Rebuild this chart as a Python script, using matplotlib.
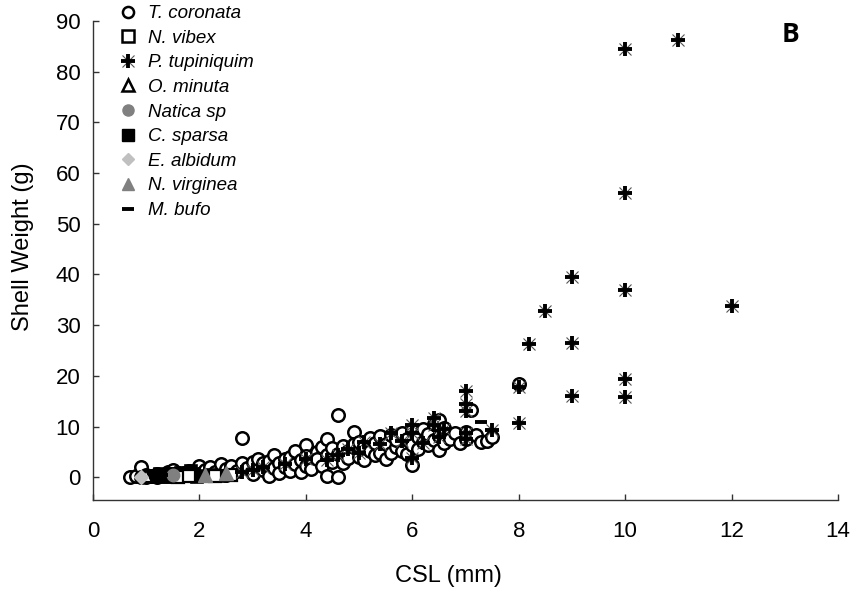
import matplotlib
matplotlib.use("Agg")
import matplotlib.pyplot as plt
from matplotlib.lines import Line2D
from matplotlib.legend_handler import HandlerTuple

plt.rcParams['font.family'] = ['Liberation Sans', 'DejaVu Sans']

# ---------------- data ----------------
tc_x = [0.7, 0.8, 0.9, 0.9, 1.0, 1.0, 1.1, 1.2, 1.2, 1.3, 1.4, 1.5, 1.5, 1.6, 1.7, 1.8, 1.9, 2.0, 2.0,
        2.1, 2.2, 2.3, 2.4, 2.5, 2.5, 2.6, 2.7, 2.8, 2.8, 2.9, 3.0, 3.0, 3.1, 3.1, 3.2, 3.2, 3.3, 3.3,
        3.4, 3.4, 3.5, 3.5, 3.6, 3.6, 3.7, 3.7, 3.8, 3.8, 3.9, 3.9, 4.0, 4.0, 4.0, 4.1, 4.1, 4.2, 4.2,
        4.3, 4.3, 4.4, 4.4, 4.4, 4.5, 4.5, 4.6, 4.6, 4.6, 4.7, 4.7, 4.8, 4.8, 4.9, 4.9, 5.0, 5.0, 5.1,
        5.1, 5.2, 5.2, 5.3, 5.3, 5.4, 5.4, 5.5, 5.5, 5.6, 5.6, 5.7, 5.7, 5.8, 5.8, 5.9, 5.9, 6.0, 6.0,
        6.0, 6.1, 6.1, 6.2, 6.2, 6.3, 6.3, 6.4, 6.4, 6.5, 6.5, 6.5, 6.6, 6.6, 6.7, 6.8, 6.9, 7.0, 7.0,
        7.1, 7.2, 7.3, 7.4, 7.5, 8.0]
tc_y = [0.0, 0.3, 2.0, 0.1, 0.5, 0.0, 0.2, 0.6, 0.1, 0.4, 1.0, 0.3, 1.5, 0.8, 0.5, 1.2, 0.9, 2.2, 0.6,
        1.4, 2.0, 1.0, 2.6, 1.6, 0.4, 2.2, 1.2, 7.7, 2.8, 1.8, 3.0, 0.6, 2.2, 3.5, 1.4, 2.8, 0.2, 3.2,
        4.4, 1.8, 2.8, 0.8, 3.6, 2.0, 1.2, 4.0, 2.6, 5.2, 3.4, 1.0, 6.3, 2.2, 4.2, 3.0, 1.6, 5.0, 3.6,
        2.2, 6.0, 7.6, 0.2, 4.4, 3.0, 5.8, 12.2, 0.1, 4.6, 6.2, 2.8, 5.2, 3.8, 8.9, 6.6, 4.0, 7.0, 3.3,
        6.2, 5.2, 7.8, 4.4, 6.8, 4.8, 8.2, 3.6, 6.6, 4.8, 8.4, 6.0, 7.4, 5.2, 8.8, 4.6, 7.6, 2.4, 6.4,
        9.4, 5.6, 8.0, 7.0, 9.6, 6.4, 8.6, 7.4, 10.4, 5.4, 8.2, 11.2, 6.8, 9.8, 7.6, 8.8, 6.8, 7.6, 9.0,
        13.2, 8.4, 7.0, 7.2, 8.0, 18.4]

nv_x = [1.6, 1.8, 2.3, 2.6]
nv_y = [0.1, 0.3, 0.2, 0.4]

pt_x = [2.8, 3.0, 3.2, 3.6, 4.0, 4.4, 4.6, 4.8, 5.0, 5.1, 5.4, 5.6, 5.8, 6.0, 6.0, 6.0, 6.2, 6.4, 6.4,
        6.5, 6.6, 7.0, 7.0, 7.0, 7.0, 7.0, 7.5, 8.0, 8.0, 8.2, 8.5, 9.0, 9.0, 9.0, 10.0, 10.0, 10.0,
        10.0, 10.0, 11.0, 12.0]
pt_y = [1.0, 1.4, 2.0, 2.6, 3.6, 3.4, 4.3, 5.6, 4.8, 6.9, 6.6, 8.7, 7.2, 10.2, 8.8, 3.7, 6.8, 11.6, 10.2,
        8.0, 9.6, 17.1, 14.5, 13.0, 8.8, 7.6, 9.3, 17.7, 10.6, 26.2, 32.8, 39.5, 26.5, 16.1, 84.5, 56.1,
        37.0, 19.3, 15.9, 86.3, 33.7]

om_x = [1.0]
om_y = [0.2]

na_x = [1.5]
na_y = [0.4]

cs_x = [1.1, 1.15, 1.2, 1.25, 1.3, 1.35, 1.4, 1.45, 1.5, 1.55, 1.6, 1.65, 1.7, 1.75, 1.8, 1.85, 1.9,
        1.95, 2.0, 2.2, 2.4]
cs_y = [0.3, 0.0, 0.2, 0.6, 0.5, 0.1, 0.1, 0.7, 0.6, 0.2, 0.3, 0.8, 0.2, 0.4, 0.8, 1.2, 0.4, 0.0, 0.3,
        0.5, 0.3]

ea_x = [0.9]
ea_y = [0.0]

nvi_x = [2.1, 2.5]
nvi_y = [0.4, 0.8]

mb_x = [1.3, 7.3]
mb_y = [0.5, 10.8]

species = ["T. coronata", "N. vibex", "P. tupiniquim", "O. minuta", "Natica sp",
           "C. sparsa", "E. albidum", "N. virginea", "M. bufo"]

x_ticks = [0, 2, 4, 6, 8, 10, 12, 14]
y_ticks = [0, 10, 20, 30, 40, 50, 60, 70, 80, 90]

# ---------------- figure ----------------
fig = plt.figure(figsize=(8.56, 5.96), dpi=100)
ax = fig.add_axes([93 / 856, 1 - 500 / 596, (838 - 93) / 856, (500 - 21) / 596])

ms = 9
ax.plot(tc_x, tc_y, 'o', ms=ms, mfc='white', mec='black', mew=1.8, ls='none', zorder=3)
ax.plot(cs_x, cs_y, 's', ms=ms, mfc='black', mec='black', mew=1.2, ls='none', zorder=4)
ax.plot(nv_x, nv_y, 's', ms=ms, mfc='white', mec='black', mew=1.6, ls='none', zorder=4)
ax.plot(om_x, om_y, '^', ms=ms, mfc='white', mec='black', mew=1.6, ls='none', zorder=4)
ax.plot(na_x, na_y, 'o', ms=ms, mfc='#808080', mec='#808080', ls='none', zorder=4)
ax.plot(ea_x, ea_y, 'D', ms=ms * 0.8, mfc='#c0c0c0', mec='#c0c0c0', ls='none', zorder=5)
ax.plot(nvi_x, nvi_y, '^', ms=ms * 1.1, mfc='#808080', mec='#808080', ls='none', zorder=5)
ax.plot(mb_x, mb_y, '_', ms=ms, mec='black', mew=2.8, ls='none', zorder=5)
ax.plot(pt_x, pt_y, 'x', ms=9, mec='#555555', mew=0.8, ls='none', zorder=6)
ax.plot(pt_x, pt_y, '+', ms=10, mec='black', mew=2.8, ls='none', zorder=6)

ax.set_xlim(0, 14)
ax.set_ylim(-4.5, 90)
ax.set_xticks(x_ticks)
ax.set_yticks(y_ticks)
for s in ['top', 'right']:
    ax.spines[s].set_visible(False)
for s in ['left', 'bottom']:
    ax.spines[s].set_color('#333333')
    ax.spines[s].set_linewidth(1.0)
ax.tick_params(axis='both', direction='in', length=4, width=1, color='#333333',
               labelsize=16, labelcolor='black')
ax.tick_params(axis='x', pad=15)
ax.tick_params(axis='y', pad=9)

ax.set_xlabel("CSL (mm)", fontsize=17)
ax.set_ylabel("Shell Weight (g)", fontsize=17)
ax.xaxis.set_label_coords((448 - 93) / (838 - 93), -(576 - 500) / (500 - 21))
ax.yaxis.set_label_coords(-(93 - 23) / (838 - 93), (500 - 247) / (500 - 21))
ax.xaxis.label.set_va('center')
ax.yaxis.label.set_va('center')

fig.text(790 / 856, 1 - 35 / 596, "B", fontsize=19, fontweight='bold',
         family=['Open Sans', 'DejaVu Sans'], ha='center', va='center')

# legend
lms = 8
handles = [
    Line2D([], [], marker='o', ls='none', ms=lms, mfc='white', mec='black', mew=1.8),
    Line2D([], [], marker='s', ls='none', ms=lms, mfc='white', mec='black', mew=1.8),
    (Line2D([], [], marker='x', ls='none', ms=8, mec='#555555', mew=0.8),
     Line2D([], [], marker='+', ls='none', ms=9.5, mec='black', mew=2.8)),
    Line2D([], [], marker='^', ls='none', ms=lms, mfc='white', mec='black', mew=1.8),
    Line2D([], [], marker='o', ls='none', ms=lms, mfc='#808080', mec='#808080'),
    Line2D([], [], marker='s', ls='none', ms=lms, mfc='black', mec='black'),
    Line2D([], [], marker='D', ls='none', ms=lms * 0.8, mfc='#c0c0c0', mec='#c0c0c0'),
    Line2D([], [], marker='^', ls='none', ms=lms, mfc='#808080', mec='#808080'),
    Line2D([], [], marker='_', ls='none', ms=lms, mec='black', mew=2.8),
]
leg = fig.legend(handles, species, loc='upper left', bbox_to_anchor=(119 / 856, 1 - 5 / 596),
                 frameon=False, prop={'style': 'italic', 'size': 13.5},
                 handler_map={tuple: HandlerTuple(ndivide=1, pad=0)},
                 handlelength=1.0, handletextpad=0.55, labelspacing=0.40, borderpad=0,
                 borderaxespad=0)

fig.savefig("out.png", dpi=100)
